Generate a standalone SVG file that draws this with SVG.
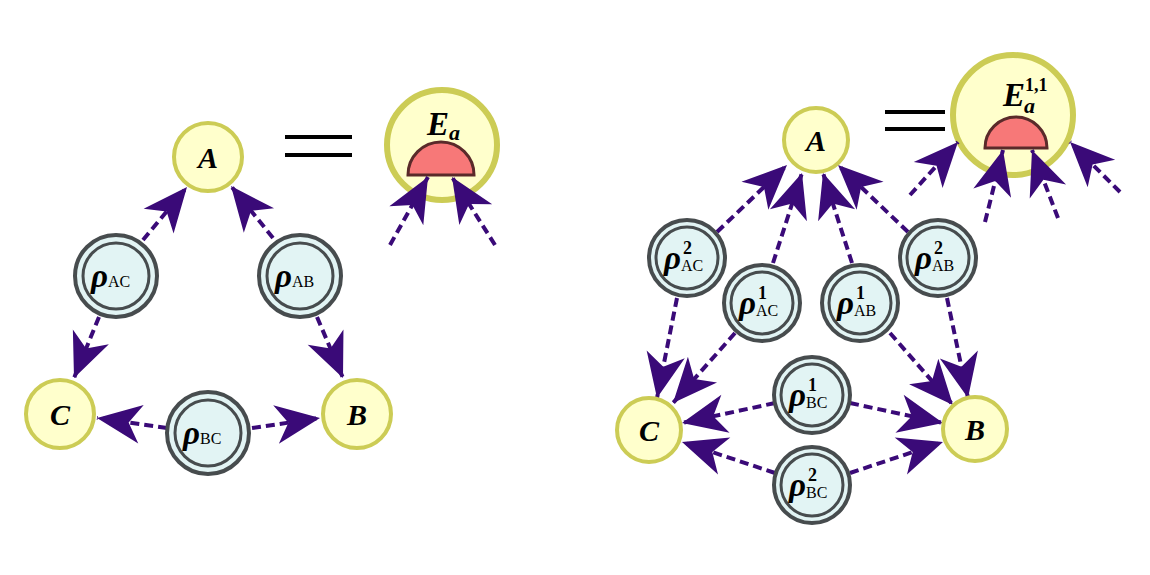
<svg xmlns="http://www.w3.org/2000/svg" width="1150" height="575" viewBox="0 0 1150 575">
<style>
.y{fill:#ffffcc;stroke:#cccc55;stroke-width:4}
.yb{fill:#ffffcc;stroke:#cccc55;stroke-width:6}
.ro{fill:#e2f4f4;stroke:#474c4e;stroke-width:4}
.ri{fill:#e2f4f4;stroke:#474c4e;stroke-width:3}
.c{stroke:#3a0a78;stroke-width:4;stroke-dasharray:9,5;fill:none;marker-end:url(#ah)}
.eq{stroke:#000;stroke-width:4}
.det{fill:#f77878;stroke:#5a2a2a;stroke-width:3}
.L{font-family:"Liberation Serif",serif;font-weight:bold;font-style:italic;font-size:30px;text-anchor:middle}
.r{font-family:"Liberation Serif",serif;font-weight:bold;font-style:italic;font-size:33px}
.s{font-family:"Liberation Serif",serif;font-style:normal;font-weight:normal;font-size:16px}
.p{font-family:"Liberation Serif",serif;font-style:normal;font-weight:bold;font-size:18px}
</style>
<defs>
<marker id="ah" markerUnits="userSpaceOnUse" markerWidth="50" markerHeight="50" viewBox="-34 -18 36 36" refX="0" refY="0" orient="auto">
<path d="M0,0 L-32,-14 L-23,0 L-32,14 Z" fill="#3a0a78"/>
</marker>
</defs>
<g id="connectors">
<line class="c" x1="143" y1="240" x2="187" y2="187"/>
<line class="c" x1="273" y1="238" x2="231" y2="186"/>
<line class="c" x1="99" y1="317" x2="74" y2="378"/>
<line class="c" x1="317" y1="317" x2="343" y2="378"/>
<line class="c" x1="167" y1="428" x2="97" y2="418"/>
<line class="c" x1="252" y1="428" x2="320" y2="418"/>
<line class="c" x1="717" y1="232" x2="787" y2="165"/>
<line class="c" x1="773" y1="263" x2="802" y2="173"/>
<line class="c" x1="852" y1="263" x2="823" y2="173"/>
<line class="c" x1="908" y1="232" x2="838" y2="165"/>
<line class="c" x1="677" y1="298" x2="657" y2="398"/>
<line class="c" x1="735" y1="333" x2="673" y2="403"/>
<line class="c" x1="890" y1="333" x2="953" y2="405"/>
<line class="c" x1="947" y1="298" x2="968" y2="398"/>
<line class="c" x1="775" y1="403" x2="682" y2="423"/>
<line class="c" x1="850" y1="403" x2="943" y2="423"/>
<line class="c" x1="775" y1="473" x2="682" y2="442"/>
<line class="c" x1="850" y1="473" x2="943" y2="442"/>
</g>
<g id="A1"><circle class="y" cx="208" cy="157" r="34"/><text class="L" x="208" y="168">A</text></g>
<g id="C1"><circle class="y" cx="60" cy="414" r="34"/><text class="L" x="60" y="425">C</text></g>
<g id="B1"><circle class="y" cx="357" cy="414" r="34"/><text class="L" x="357" y="425">B</text></g>
<g id="rAC"><circle class="ro" cx="116" cy="276" r="41"/><circle class="ri" cx="116" cy="276" r="33"/><text class="r" x="91" y="287">ρ<tspan class="s">AC</tspan></text></g>
<g id="rAB"><circle class="ro" cx="300" cy="276" r="41"/><circle class="ri" cx="300" cy="276" r="33"/><text class="r" x="275" y="287">ρ<tspan class="s">AB</tspan></text></g>
<g id="rBC"><circle class="ro" cx="208" cy="433" r="41"/><circle class="ri" cx="208" cy="433" r="33"/><text class="r" x="183" y="444">ρ<tspan class="s">BC</tspan></text></g>
<g id="eq1"><line class="eq" x1="285" y1="137" x2="352" y2="137"/><line class="eq" x1="285" y1="155" x2="352" y2="155"/></g>
<g id="Ea"><circle class="yb" cx="442" cy="145" r="55"/><path class="det" d="M408,175 A33,33 0 0 1 474,175 Z"/><text class="r" x="427" y="135" font-size="30">E<tspan font-size="22" dy="5">a</tspan></text></g>
<g id="A2"><circle class="y" cx="816" cy="140" r="32"/><text class="L" x="816" y="151">A</text></g>
<g id="C2"><circle class="y" cx="649" cy="430" r="32"/><text class="L" x="649" y="441">C</text></g>
<g id="B2"><circle class="y" cx="975" cy="429" r="32"/><text class="L" x="975" y="440">B</text></g>
<g id="r2AC"><circle class="ro" cx="687" cy="258" r="38"/><circle class="ri" cx="687" cy="258" r="31"/><text class="r" x="664" y="269">ρ<tspan class="s" dy="2">AC</tspan><tspan class="p" x="683" dy="-17">2</tspan></text></g>
<g id="r1AC"><circle class="ro" cx="762" cy="303" r="38"/><circle class="ri" cx="762" cy="303" r="31"/><text class="r" x="739" y="314">ρ<tspan class="s" dy="2">AC</tspan><tspan class="p" x="758" dy="-17">1</tspan></text></g>
<g id="r1AB"><circle class="ro" cx="860" cy="303" r="38"/><circle class="ri" cx="860" cy="303" r="31"/><text class="r" x="837" y="314">ρ<tspan class="s" dy="2">AB</tspan><tspan class="p" x="856" dy="-17">1</tspan></text></g>
<g id="r2AB"><circle class="ro" cx="938" cy="258" r="38"/><circle class="ri" cx="938" cy="258" r="31"/><text class="r" x="915" y="269">ρ<tspan class="s" dy="2">AB</tspan><tspan class="p" x="934" dy="-17">2</tspan></text></g>
<g id="r1BC"><circle class="ro" cx="812" cy="395" r="38"/><circle class="ri" cx="812" cy="395" r="31"/><text class="r" x="789" y="406">ρ<tspan class="s" dy="2">BC</tspan><tspan class="p" x="808" dy="-17">1</tspan></text></g>
<g id="r2BC"><circle class="ro" cx="812" cy="485" r="38"/><circle class="ri" cx="812" cy="485" r="31"/><text class="r" x="789" y="496">ρ<tspan class="s" dy="2">BC</tspan><tspan class="p" x="808" dy="-17">2</tspan></text></g>
<g id="eq2"><line class="eq" x1="885" y1="112" x2="945" y2="112"/><line class="eq" x1="885" y1="129" x2="945" y2="129"/></g>
<g id="E11"><circle class="yb" cx="1013" cy="115" r="60"/><path class="det" d="M985,148 A31,31 0 0 1 1047,148 Z"/><text class="r" x="1003" y="106" font-size="30">E<tspan font-size="22" x="1024" dy="7">a</tspan><tspan class="p" x="1025" dy="-22">1,1</tspan></text></g>
<g id="detector-connectors">
<line class="c" x1="390" y1="245" x2="428" y2="177"/>
<line class="c" x1="495" y1="245" x2="452" y2="177"/>
<line class="c" x1="910" y1="195" x2="958" y2="142"/>
<line class="c" x1="985" y1="222" x2="1003" y2="150"/>
<line class="c" x1="1058" y1="218" x2="1032" y2="150"/>
<line class="c" x1="1120" y1="192" x2="1070" y2="142"/>
</g>
</svg>
